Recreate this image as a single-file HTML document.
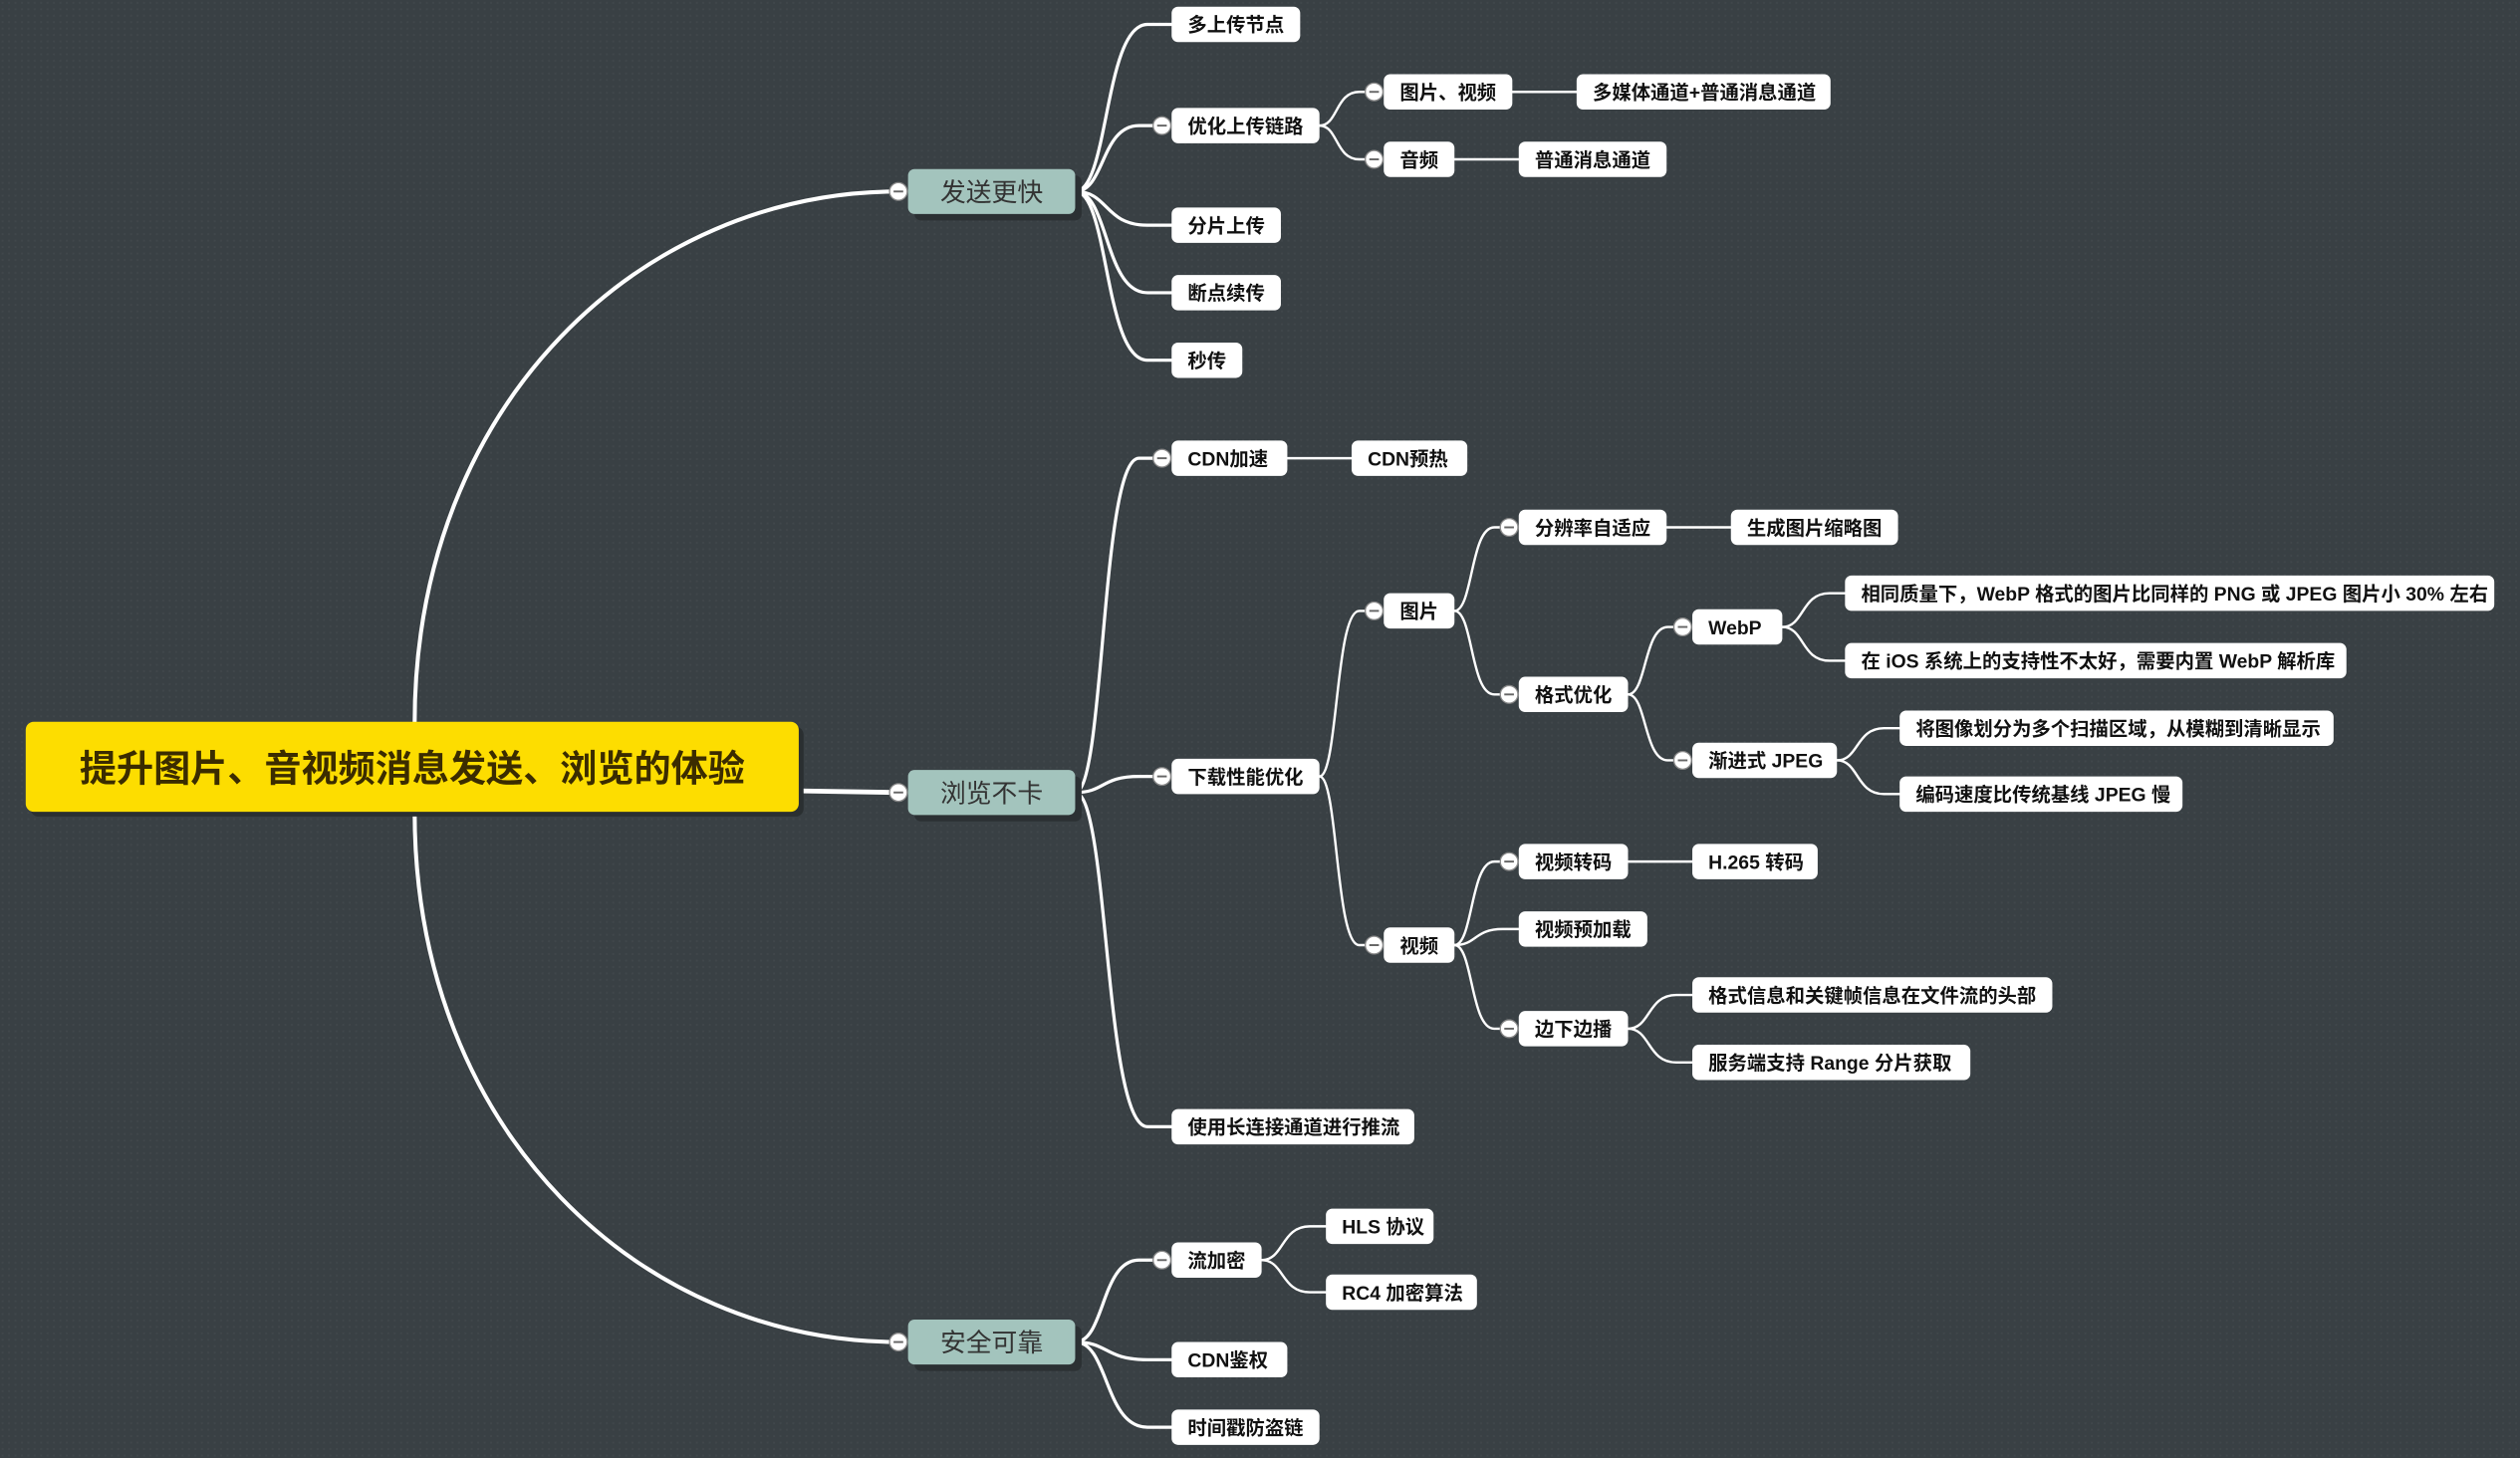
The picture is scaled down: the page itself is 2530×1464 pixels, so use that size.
<!DOCTYPE html>
<html><head><meta charset="utf-8"><style>
html,body{margin:0;padding:0;background:#394044;}
svg{display:block}
text{font-family:"Liberation Sans","Noto Sans CJK SC",sans-serif;}
</style></head><body>
<svg id="s" width="2530" height="1464" viewBox="0 0 1568 907" xmlns="http://www.w3.org/2000/svg">
<defs>
<pattern id="dots" width="4" height="4" patternUnits="userSpaceOnUse"><rect width="4" height="4" fill="#394044"/><rect x="1" y="1" width="1.2" height="1.2" fill="#40474b"/></pattern>
</defs>
<rect width="1568" height="907" fill="url(#dots)"/>
<g id="lines" fill="none" stroke="#fff" stroke-linecap="round"></g>
<g id="nodes"></g>
</svg>
<script>
const L=document.getElementById('lines'),N=document.getElementById('nodes');
const ns='http://www.w3.org/2000/svg';
function el(p,t,a,txt){const e=document.createElementNS(ns,t);for(const k in a)e.setAttribute(k,a[k]);if(txt)e.textContent=txt;p.appendChild(e);return e;}
// nodes: id:[x1,x2,cy,text,circle]
const n={
 root:[16,497,478,'提升图片、音视频消息发送、浏览的体验'],
 b1:[565,669,119,'发送更快',1],b2:[565,669,493,'浏览不卡',1],b3:[565,669,835,'安全可靠',1],
 a1:[729,809,15,'多上传节点'],a2:[729,821,78,'优化上传链路',1],a3:[861,941,57,'图片、视频',1],a4:[981,1139,57,'多媒体通道+普通消息通道'],
 a5:[861,905,99,'音频',1],a6:[945,1037,99,'普通消息通道'],a7:[729,797,140,'分片上传'],a8:[729,797,182,'断点续传'],a9:[729,773,224,'秒传'],
 c1:[729,801,285,'CDN加速',1],c2:[841,913,285,'CDN预热'],c3:[729,821,483,'下载性能优化',1],c4:[861,905,380,'图片',1],
 c5:[945,1037,328,'分辨率自适应',1],c6:[1077,1181,328,'生成图片缩略图'],c7:[945,1013,432,'格式优化',1],
 c8:[1053,1109,390,'WebP',1],c9:[1148,1552,369,'相同质量下，WebP 格式的图片比同样的 PNG 或 JPEG 图片小 30% 左右'],
 c10:[1148,1460,411,'在 iOS 系统上的支持性不太好，需要内置 WebP 解析库'],c11:[1053,1143,473,'渐进式 JPEG',1],
 c12:[1182,1452,453,'将图像划分为多个扫描区域，从模糊到清晰显示'],c13:[1182,1358,494,'编码速度比传统基线 JPEG 慢'],
 c14:[861,905,588,'视频',1],c15:[945,1013,536,'视频转码',1],c16:[1053,1131,536,'H.265 转码'],c17:[945,1025,578,'视频预加载'],
 c18:[945,1013,640,'边下边播',1],c19:[1053,1277,619,'格式信息和关键帧信息在文件流的头部'],c20:[1053,1226,661,'服务端支持 Range 分片获取'],
 c21:[729,880,701,'使用长连接通道进行推流'],
 d1:[729,785,784,'流加密',1],d2:[825,892,763,'HLS 协议'],d3:[825,919,804,'RC4 加密算法'],d4:[729,801,846,'CDN鉴权'],d5:[729,821,888,'时间戳防盗链']
};
const edges=[['b1','a1'],['b1','a2'],['a2','a3'],['a3','a4'],['a2','a5'],['a5','a6'],['b1','a7'],['b1','a8'],['b1','a9'],
['b2','c1'],['c1','c2'],['b2','c3'],['c3','c4'],['c4','c5'],['c5','c6'],['c4','c7'],['c7','c8'],['c8','c9'],['c8','c10'],['c7','c11'],['c11','c12'],['c11','c13'],
['c3','c14'],['c14','c15'],['c15','c16'],['c14','c17'],['c14','c18'],['c18','c19'],['c18','c20'],['b2','c21'],
['b3','d1'],['d1','d2'],['d1','d3'],['b3','d4'],['b3','d5']];
// root connectors
el(L,'path',{d:'M497 492 L559 493','stroke-width':3});
el(L,'path',{d:'M258 450 C258 250 400 119 559 119','stroke-width':2.5});
el(L,'path',{d:'M258 505 C258 705 400 835 559 835','stroke-width':2.5});
for(const [p,c] of edges){
 const P=n[p],C=n[c];const x1=P[1],y1=P[2],x2=C[0]-(C[4]?7:0),y2=C[2];
 const dx=x2-x1;const w=p.startsWith('b')?2:1.5;
 if(Math.abs(y2-y1)<2){el(L,'path',{d:`M${x1} ${y1} L${x2} ${y2}`,'stroke-width':w});continue;}
 el(L,'path',{d:`M${x1} ${y1} C${x1+dx*0.35} ${y1} ${x1+dx*0.3} ${y2} ${x1+dx*0.75} ${y2} L${x2} ${y2}`,'stroke-width':w});
}
for(const k in n){
 const [x1,x2,cy,t,c]=n[k];
 if(k==='root'){
  el(N,'rect',{x:x1+3,y:cy-26,width:x2-x1,height:56,rx:5,fill:'#2a2f31'});
  el(N,'rect',{x:x1,y:cy-29,width:x2-x1,height:56,rx:5,fill:'#fddd00'});
  el(N,'text',{x:(x1+x2)/2,y:cy+8,'text-anchor':'middle','font-size':23,'font-weight':'bold',fill:'#3b2c00'},t);
  continue;
 }
 const big=k[0]==='b';const h=big?28:22;
 if(big){el(N,'rect',{x:x1+4,y:cy-h/2+4,width:x2-x1,height:h,rx:4,fill:'#2b3033'});}
 el(N,'rect',{x:x1,y:cy-h/2,width:x2-x1,height:h,rx:4,fill:big?'#a3c4bd':'#ffffff'});
 el(N,'text',{x:big?(x1+x2)/2:x1+10,y:cy+(big?6:4.5),'text-anchor':big?'middle':'start','font-size':big?16:12,'font-weight':big?'normal':'bold',fill:big?'#333':'#111'},t);
 if(c){const cx=x1-6;el(N,'circle',{cx:cx,cy:cy,r:5.5,fill:'#fff',stroke:'#888','stroke-width':0.8});el(N,'line',{x1:cx-3,y1:cy,x2:cx+3,y2:cy,stroke:'#666','stroke-width':1.2});}
}
</script>
</body></html>
